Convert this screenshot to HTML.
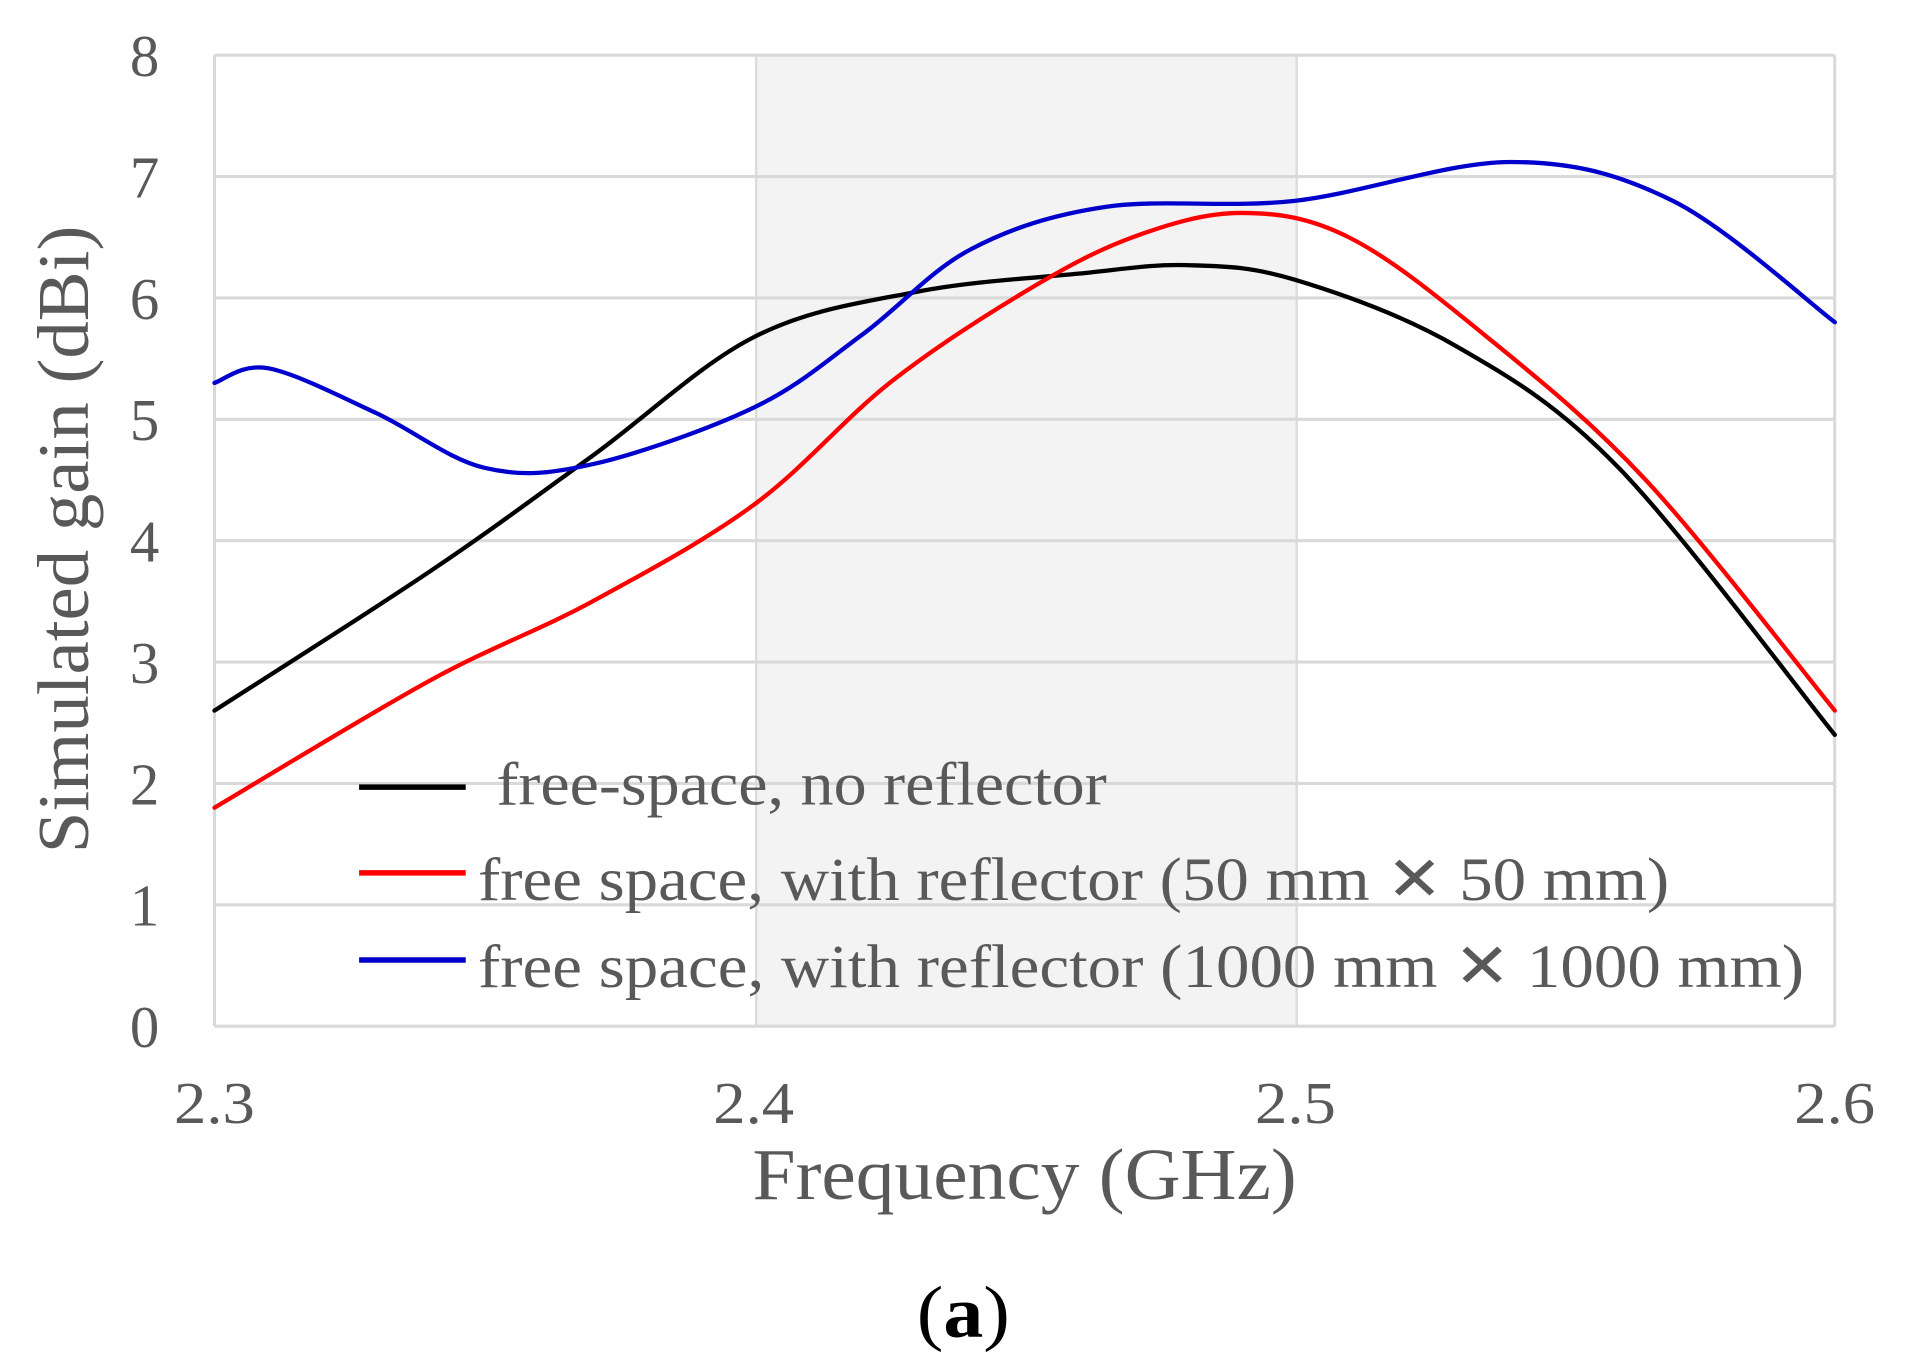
<!DOCTYPE html>
<html><head><meta charset="utf-8"><style>
html,body{margin:0;padding:0;background:#fff;width:1907px;height:1367px;overflow:hidden}
svg{display:block}
text{font-family:"Liberation Serif",serif;fill:#595959}
</style></head><body>
<svg width="1907" height="1367" viewBox="0 0 1556 1115" preserveAspectRatio="none" xmlns="http://www.w3.org/2000/svg">
<rect x="617" y="45" width="441" height="792" fill="#f4f3f3" stroke="#dcdcdc" stroke-width="2"/>
<g stroke="#d9d9d9" stroke-width="2.5">
<line x1="175" y1="45" x2="1497" y2="45"/>
<line x1="175" y1="144" x2="1497" y2="144"/>
<line x1="175" y1="243" x2="1497" y2="243"/>
<line x1="175" y1="342" x2="1497" y2="342"/>
<line x1="175" y1="441" x2="1497" y2="441"/>
<line x1="175" y1="540" x2="1497" y2="540"/>
<line x1="175" y1="639" x2="1497" y2="639"/>
<line x1="175" y1="738" x2="1497" y2="738"/>
<line x1="175" y1="837" x2="1497" y2="837"/>
<line x1="175" y1="45" x2="175" y2="837"/>
<line x1="1497" y1="45" x2="1497" y2="837"/>
</g>
<g font-size="48" text-anchor="end">
<text x="130" y="62">8</text><text x="130" y="161">7</text><text x="130" y="260">6</text>
<text x="130" y="359">5</text><text x="130" y="458">4</text><text x="130" y="557">3</text>
<text x="130" y="656">2</text><text x="130" y="755">1</text><text x="130" y="854">0</text>
</g>
<g font-size="48" text-anchor="middle">
<text x="175" y="916" textLength="66" lengthAdjust="spacingAndGlyphs">2.3</text><text x="615" y="916" textLength="66" lengthAdjust="spacingAndGlyphs">2.4</text>
<text x="1057" y="916" textLength="66" lengthAdjust="spacingAndGlyphs">2.5</text><text x="1497" y="916" textLength="66" lengthAdjust="spacingAndGlyphs">2.6</text>
</g>
<text x="836" y="978" font-size="60" text-anchor="middle" textLength="444" lengthAdjust="spacingAndGlyphs">Frequency (GHz)</text>
<text transform="translate(72,440) rotate(-90)" font-size="60" text-anchor="middle" textLength="512" lengthAdjust="spacingAndGlyphs">Simulated gain (dBi)</text>
<text x="786" y="1090" font-size="60" text-anchor="middle" style="fill:#000" textLength="76" lengthAdjust="spacingAndGlyphs">(<tspan font-weight="bold">a</tspan>)</text>
<g fill="none" stroke-width="3.5" stroke-linecap="round">
<path id="pk" stroke="#000"/>
<path id="pr" stroke="#ff0000"/>
<path id="pb" stroke="#0000cc"/>
</g>
<g stroke-width="4.5">
<line x1="293" y1="642" x2="380" y2="642" stroke="#000"/>
<line x1="293" y1="712" x2="380" y2="712" stroke="#ff0000"/>
<line x1="293" y1="783" x2="380" y2="783" stroke="#0000cc"/>
</g>
<g font-size="50">
<text x="405" y="656" textLength="498" lengthAdjust="spacingAndGlyphs">free-space, no reflector</text>
<text x="390" y="734" textLength="972" lengthAdjust="spacingAndGlyphs">free space, with reflector (50 mm ✕ 50 mm)</text>
<text x="390" y="805" textLength="1082" lengthAdjust="spacingAndGlyphs">free space, with reflector (1000 mm ✕ 1000 mm)</text>
</g>
</svg>
<script>
function X(f){return 175+(f-2.3)*4407;}
function Y(g){return 837-g*99;}
function cr(d){var p=d.map(function(a){return [X(a[0]),Y(a[1])];});
var s="M"+p[0][0]+","+p[0][1];
for(var i=0;i<p.length-1;i++){var p0=p[Math.max(i-1,0)],p1=p[i],p2=p[i+1],p3=p[Math.min(i+2,p.length-1)];
s+=" C"+(p1[0]+(p2[0]-p0[0])/6)+","+(p1[1]+(p2[1]-p0[1])/6)+" "+(p2[0]-(p3[0]-p1[0])/6)+","+(p2[1]-(p3[1]-p1[1])/6)+" "+p2[0]+","+p2[1];}
return s;}
document.getElementById("pk").setAttribute("d",cr([[2.3,2.6],[2.34,3.75],[2.37,4.7],[2.4,5.68],[2.43,6.05],[2.46,6.2],[2.48,6.27],[2.5,6.15],[2.53,5.6],[2.56,4.6],[2.6,2.4]]));
document.getElementById("pr").setAttribute("d",cr([[2.3,1.8],[2.34,2.85],[2.37,3.5],[2.4,4.3],[2.425,5.3],[2.45,6.05],[2.47,6.5],[2.49,6.7],[2.51,6.5],[2.535,5.7],[2.565,4.5],[2.6,2.6]]));
document.getElementById("pb").setAttribute("d",cr([[2.3,5.3],[2.31,5.42],[2.33,5.05],[2.35,4.6],[2.37,4.63],[2.4,5.1],[2.42,5.7],[2.44,6.4],[2.465,6.75],[2.5,6.8],[2.54,7.12],[2.57,6.8],[2.6,5.8]]));
</script>
</body></html>
